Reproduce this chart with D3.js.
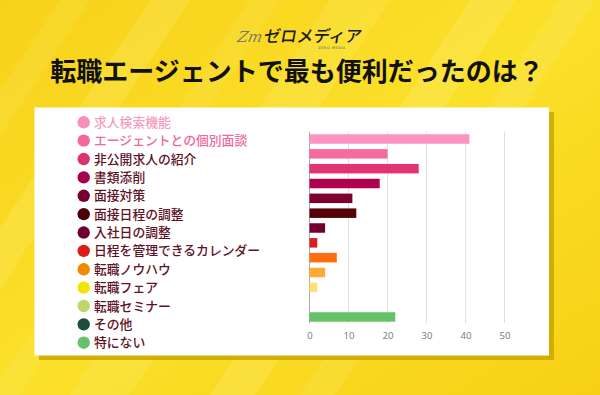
<!DOCTYPE html>
<html><head><meta charset="utf-8">
<script src="https://cdn.jsdelivr.net/npm/d3@7"></script>
<style>html,body{margin:0;padding:0;overflow:hidden;background:#fadc1e}</style>
</head><body><svg id="c" width="600" height="395"></svg>
<script>
const title = "転職エージェントで最も便利だったのは？";
const categories = ["求人検索機能","エージェントとの個別面談","非公開求人の紹介","書類添削","面接対策","面接日程の調整","入社日の調整","日程を管理できるカレンダー","転職ノウハウ","転職フェア","転職セミナー","その他","特にない"];
const values = [41,20,28,18,11,12,4,2,7,4,2,0,22];
const ticks = [0,10,20,30,40,50];
const legendColors = ["#f78fb8","#f4679d","#d9336c","#a5004f","#760031","#4c0008","#6d0030","#d91e18","#f08a00","#f2e400","#bcd96a","#1e4d3c","#66c26a"];
const barColors = ["#fd93c0","#f76a9e","#e23373","#b0004f","#7c0030","#560007","#74002f","#d42020","#ff6d12","#ffaa33","#ffe073","#1e4d3c","#66c266"];
const textColors = ["#f59cc0","#ec6a9e","#5e1226","#5e1226","#5e1226","#5e1226","#5e1226","#5e1226","#5e1226","#5e1226","#5e1226","#5e1226","#5e1226"];

const svg = d3.select("#c");
const defs = svg.append("defs");
const g1 = defs.append("linearGradient").attr("id","bg").attr("x1","0").attr("y1","0").attr("x2","1").attr("y2","1");
g1.append("stop").attr("offset","0").attr("stop-color","#f8d11a");
g1.append("stop").attr("offset","0.5").attr("stop-color","#fbe02a");
g1.append("stop").attr("offset","1").attr("stop-color","#f7d016");
svg.append("rect").attr("width",600).attr("height",395).attr("fill","url(#bg)");
const streaks = [[150,40,0.18],[250,30,0.12],[330,60,0.15],[470,45,0.2],[560,35,0.14],[60,30,0.12]];
streaks.forEach(([x,w,o])=>{
  svg.append("polygon").attr("points",`${x},0 ${x+w},0 ${x+w-260},395 ${x-260},395`).attr("fill","#fff7a0").attr("opacity",o);
});

// logo
svg.append("g").attr("transform","translate(249,42) skewX(-12)")
  .append("text").attr("text-anchor","middle").attr("font-family","'DejaVu Serif',serif").attr("font-style","italic")
  .attr("font-size",15).attr("fill","#7a7a6a").text("Zm");
svg.append("g").attr("transform","translate(263,42) skewX(-10)")
  .append("text").attr("font-family","'Noto Sans CJK JP'").attr("font-weight",500)
  .attr("font-size",16.5).attr("fill","#1a1a1a").text("ゼロメディア");
svg.append("text").attr("x",332).attr("y",49).attr("font-family","'DejaVu Sans'").attr("font-size",3.5)
  .attr("fill","#555").attr("text-anchor","middle").attr("letter-spacing",0.5).text("ZERO-MEDIA");

// title
svg.append("text").attr("x",297).attr("y",81).attr("text-anchor","middle")
  .attr("font-family","'Noto Sans CJK JP'").attr("font-weight",700).attr("font-size",26).attr("fill","#111").text(title);

// panel
svg.append("rect").attr("x",39).attr("y",112).attr("width",515).attr("height",248).attr("fill","#c9a800").attr("opacity",0.85);
svg.append("rect").attr("x",34.5).attr("y",107.5).attr("width",514.5).attr("height",248).attr("fill","#fff");

// legend
const lg = svg.append("g");
categories.forEach((c,i)=>{
  const y = 122.3 + i*18.37;
  lg.append("circle").attr("cx",83.7).attr("cy",y).attr("r",6.2).attr("fill",legendColors[i]);
  lg.append("text").attr("x",94).attr("y",y+4.6).attr("font-family","'Noto Sans CJK JP'").attr("font-weight",500)
    .attr("font-size",12.8).attr("fill",textColors[i]).text(c);
});

// bars
const x = d3.scaleLinear().domain([0,50]).range([309.5,504.5]);
const y = d3.scaleBand().domain(categories).range([131.6,324.4]).paddingInner(0.36).paddingOuter(0.18);
const ax = svg.append("g").attr("transform","translate(0,324)")
  .call(d3.axisBottom(x).tickValues(ticks).tickSize(0).tickPadding(8));
ax.select(".domain").remove();
ax.selectAll("text").attr("font-family","'Open Sans'").attr("font-size",9.5).attr("fill","#777");
svg.append("g").selectAll("line").data(ticks).join("line")
  .attr("x1",d=>x(d)).attr("x2",d=>x(d)).attr("y1",131.6).attr("y2",323)
  .attr("stroke",d=>d===0?"#aaa":"#e0e0e0").attr("stroke-width",1);
svg.append("g").selectAll("rect").data(values).join("rect")
  .attr("x",x(0)).attr("y",(d,i)=>y(categories[i])).attr("height",y.bandwidth())
  .attr("width",d=>x(d)-x(0)).attr("fill",(d,i)=>barColors[i]);
</script></body></html>
